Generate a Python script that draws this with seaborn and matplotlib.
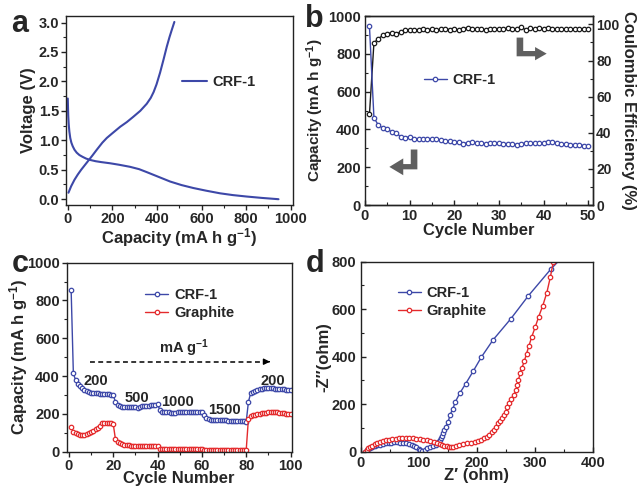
import numpy as np
import pandas as pd
import matplotlib
matplotlib.use("Agg")
import matplotlib.pyplot as plt
from matplotlib.ticker import MultipleLocator
from matplotlib.patches import Polygon
import seaborn as sns

# ---------------- data ----------------
# (a) charge / discharge profile
dis_cap = [0, 1, 2, 4, 7, 11, 16, 22, 30, 40, 52, 66, 82, 100, 125, 150, 190, 230,
           279, 320, 354, 400, 459, 510, 563, 620, 683, 740, 803, 870, 945]
dis_v = [1.71, 1.55, 1.42, 1.28, 1.15, 1.04, 0.96, 0.90, 0.84, 0.79, 0.75, 0.72, 0.69,
         0.667, 0.645, 0.63, 0.61, 0.585, 0.55, 0.51, 0.46, 0.39, 0.30, 0.24, 0.19,
         0.145, 0.10, 0.07, 0.045, 0.022, 0.0]
chg_cap = [3, 15, 30, 45, 60, 85, 110, 130, 155, 175, 200, 235, 265, 294, 325, 354,
           372, 385, 398, 414, 430, 444, 456, 466, 478]
chg_v = [0.11, 0.22, 0.33, 0.42, 0.50, 0.62, 0.74, 0.84, 0.96, 1.04, 1.12, 1.23, 1.31,
         1.40, 1.50, 1.62, 1.72, 1.82, 1.95, 2.15, 2.38, 2.59, 2.75, 2.87, 3.01]

# (b) cycling
cycles_b = list(range(1, 51))
cap_b = [945, 463, 422, 407, 400, 388, 382, 361, 357, 361,
         352, 350, 348, 348, 348, 347, 342, 340, 338, 335,
         332, 325, 330, 332, 330, 328, 325, 328, 328, 328,
         325, 325, 323, 320, 325, 328, 328, 328, 330, 330,
         336, 332, 330, 325, 322, 320, 320, 318, 315, 311]
ce_b = [50.3, 89.7, 92.1, 93.9, 94.8, 95.4, 94.8, 95.7, 96.6, 96.8,
        96.6, 97.0, 97.2, 97.0, 97.3, 96.8, 97.3, 97.5, 97.0, 97.2,
        96.8, 97.5, 98.2, 97.6, 97.5, 97.3, 97.0, 97.5, 97.5, 97.4,
        97.6, 97.8, 97.5, 97.6, 98.3, 97.0, 97.8, 97.5, 97.9, 97.4,
        97.9, 97.6, 97.3, 97.2, 97.4, 97.4, 97.5, 97.6, 97.6, 97.5]

# (c) rate performance
cycles_c = list(range(1, 101))
crf_c = [855, 414, 379, 360, 345, 335, 328, 322, 316, 312,
         310, 308, 308, 307, 306, 305, 305, 303, 302, 300,
         262, 247, 240, 238, 238, 238, 237, 238, 238, 238,
         230, 238, 240, 242, 243, 244, 245, 246, 248, 250,
         222, 212, 210, 208, 208, 203, 206, 207, 208, 208,
         209, 210, 210, 210, 209, 210, 209, 208, 210, 208,
         194, 180, 175, 170, 168, 168, 167, 166, 166, 165,
         165, 164, 164, 163, 163, 162, 162, 161, 160, 158,
         264, 309, 318, 322, 326, 330, 333, 335, 338, 338,
         337, 335, 334, 333, 332, 330, 330, 328, 327, 326]
gra_c = [132, 105, 97, 92, 88, 88, 90, 95, 100, 106,
         112, 118, 126, 138, 150, 152, 151, 151, 150, 146,
         65, 53, 45, 40, 36, 34, 33, 32, 31, 31,
         30, 30, 30, 30, 29, 29, 29, 29, 28, 28,
         13, 13, 13, 12, 12, 13, 13, 13, 12, 12,
         13, 13, 13, 13, 12, 13, 13, 13, 12, 12,
         9, 9, 9, 9, 9, 9, 9, 9, 9, 9,
         9, 9, 9, 9, 9, 9, 9, 9, 9, 9,
         175, 188, 192, 195, 198, 200, 202, 203, 205, 208,
         210, 210, 210, 208, 206, 205, 202, 200, 200, 200]
rate_labels = ["200", "500", "1000", "1500", "200"]
rate_label_x = [12, 30.5, 49, 70, 92]
rate_label_y = [374, 286, 264, 220, 374]

# (d) Nyquist plots
z_re_crf = [8, 10, 13, 16, 20, 24, 28, 33, 38, 43, 48, 53, 58, 63, 68, 73, 78, 83,
            88, 92, 96, 100, 103, 106, 110, 115, 120, 125, 129, 132, 134, 136, 138,
            140, 142, 144, 147, 151, 154, 159, 163, 171, 181, 194, 208, 228, 259,
            289, 328, 345]
z_im_crf = [0, 6, 11, 15, 20, 24, 27, 30, 33, 35, 37, 38, 39, 39, 38, 37, 35, 32,
            28, 23, 18, 12, 7, 5, 9, 14, 18, 22, 28, 35, 42, 50, 58,
            68, 80, 92, 106, 127, 155, 181, 209, 247, 286, 339, 398, 470, 560,
            656, 769, 812]
z_re_gra = [8, 10, 13, 16, 20, 24, 28, 33, 38, 43, 48, 54, 60, 66, 72, 78, 84, 90,
            96, 102, 108, 114, 120, 126, 131, 136, 140, 144, 148, 152, 156, 160,
            165, 170, 176, 183, 190, 197, 203, 208, 213, 218, 222, 226, 229, 233,
            237, 240, 243, 247, 250, 253, 256, 259, 264, 268, 270, 272, 275, 278,
            282, 286, 290, 295, 301, 307, 314, 321, 327, 332, 336]
z_im_gra = [0, 7, 14, 20, 26, 31, 36, 40, 44, 48, 51, 53, 55, 56, 57, 57, 57, 56,
            55, 53, 51, 48, 45, 41, 37, 33, 29, 25, 22, 19, 18, 20,
            24, 28, 31, 35, 37, 40, 44, 50, 56, 62, 72, 82, 92, 105,
            120, 130, 141, 155, 169, 190, 205, 221, 240, 258, 280, 303, 330, 353,
            380, 413, 445, 484, 525, 569, 615, 670, 735, 797, 830]

# ---------------- style ----------------
sns.set_theme(style="ticks")
plt.rcParams["font.family"] = ["Liberation Sans", "DejaVu Sans"]
plt.rcParams["font.weight"] = "bold"
plt.rcParams["axes.labelweight"] = "bold"
plt.rcParams["mathtext.fontset"] = "custom"
plt.rcParams["mathtext.bf"] = "Liberation Sans:bold"
plt.rcParams["mathtext.rm"] = "Liberation Sans:bold"
plt.rcParams["mathtext.default"] = "bf"

BLUE = "#3d48a8"
RED = "#e42a2c"
BLACK = "#1a1a1a"
TICK_FS = 10.5
LAB_FS = 12
LEG_FS = 10.5

fig = plt.figure(figsize=(6.39, 4.86), dpi=100)
ax_a = fig.add_axes([0.1033, 0.578, 0.3552, 0.389])
ax_b = fig.add_axes([0.5712, 0.578, 0.3563, 0.389])
ax_c = fig.add_axes([0.1044, 0.0706, 0.352, 0.389])
ax_d = fig.add_axes([0.5645, 0.0706, 0.363, 0.391])


def style_axis(ax, direction="out", size=TICK_FS, pad=1.5):
    for s in ax.spines.values():
        s.set_visible(True)
        s.set_linewidth(1.0)
        s.set_color("#222222")
    ax.tick_params(which="major", direction=direction, length=3.5, width=1.0,
                   labelsize=size, pad=pad, color="#222222")
    ax.tick_params(which="minor", direction=direction, length=2, width=0.8, color="#222222")
    for lab in ax.get_xticklabels() + ax.get_yticklabels():
        lab.set_fontweight("bold")


mk = dict(marker="o", markersize=3.2, markerfacecolor="white", markeredgewidth=0.9)

# ---------------- (a) ----------------
df_a1 = pd.DataFrame({"cap": dis_cap, "v": dis_v})
df_a2 = pd.DataFrame({"cap": chg_cap, "v": chg_v})
sns.lineplot(data=df_a1, x="cap", y="v", ax=ax_a, color=BLUE, lw=1.5, sort=False,
             estimator=None, label="CRF-1")
sns.lineplot(data=df_a2, x="cap", y="v", ax=ax_a, color=BLUE, lw=1.5, sort=False,
             estimator=None)
ax_a.set_xlim(-8, 1010)
ax_a.set_ylim(-0.1, 3.11)
ax_a.xaxis.set_major_locator(MultipleLocator(200))
ax_a.xaxis.set_minor_locator(MultipleLocator(100))
ax_a.yaxis.set_major_locator(MultipleLocator(0.5))
ax_a.yaxis.set_minor_locator(MultipleLocator(0.25))
ax_a.yaxis.set_major_formatter(matplotlib.ticker.FormatStrFormatter("%.1f"))
ax_a.set_xlabel(r"Capacity (mA h g$^{-1}$)", fontsize=LAB_FS, labelpad=0)
ax_a.set_ylabel("Voltage (V)", fontsize=LAB_FS, labelpad=2)
ax_a.legend(loc="center left", bbox_to_anchor=(0.48, 0.652), frameon=False,
            handlelength=1.7, handletextpad=0.4, borderpad=0,
            prop={"weight": "bold", "size": LEG_FS})
style_axis(ax_a)

# ---------------- (b) ----------------
df_b = pd.DataFrame({"cycle": cycles_b, "cap": cap_b, "ce": ce_b})
sns.lineplot(data=df_b, x="cycle", y="cap", ax=ax_b, color=BLUE, lw=1.0,
             markeredgecolor=BLUE, label="CRF-1", **mk)
ax_b2 = ax_b.twinx()
sns.lineplot(data=df_b, x="cycle", y="ce", ax=ax_b2, color=BLACK, lw=1.0,
             markeredgecolor=BLACK, **mk)
ax_b.set_xlim(0, 51)
ax_b.set_ylim(0, 1000)
ax_b2.set_ylim(0, 104.6)
ax_b.xaxis.set_major_locator(MultipleLocator(10))
ax_b.xaxis.set_minor_locator(MultipleLocator(5))
ax_b.yaxis.set_major_locator(MultipleLocator(200))
ax_b.yaxis.set_minor_locator(MultipleLocator(100))
ax_b2.yaxis.set_major_locator(MultipleLocator(20))
ax_b2.yaxis.set_minor_locator(MultipleLocator(10))
ax_b.set_xlabel("Cycle Number", fontsize=LAB_FS, labelpad=0)
ax_b.set_ylabel(r"Capacity (mA h g$^{-1}$)", fontsize=11, labelpad=1.5)
ax_b2.set_ylabel("Coulombic Efficiency (%)", fontsize=LAB_FS, rotation=270, labelpad=12)
ax_b.legend(loc="center left", bbox_to_anchor=(0.225, 0.66), frameon=False,
            handlelength=1.6, handletextpad=0.4, borderpad=0,
            prop={"weight": "bold", "size": LEG_FS})
style_axis(ax_b, direction="in", pad=3)
style_axis(ax_b2, direction="in", size=10, pad=2.5)
ax_b2.spines["left"].set_visible(False)
ax_b2.set_zorder(ax_b.get_zorder() - 1)
ax_b.patch.set_visible(False)

arrow_gray = "#5f5f5f"
arr_tr = [(0.666, 0.886), (0.695, 0.886), (0.695, 0.815), (0.747, 0.815), (0.747, 0.836),
          (0.798, 0.801), (0.747, 0.766), (0.747, 0.787), (0.666, 0.787)]
arr_bl = [(0.201, 0.294), (0.230, 0.294), (0.230, 0.189), (0.168, 0.189), (0.168, 0.158),
          (0.107, 0.202), (0.168, 0.247), (0.168, 0.217), (0.201, 0.217)]
for pts in (arr_tr, arr_bl):
    ax_b.add_patch(Polygon(pts, closed=True, transform=ax_b.transAxes,
                           facecolor=arrow_gray, edgecolor="none"))

# ---------------- (c) ----------------
df_c = pd.DataFrame({"cycle": cycles_c, "crf": crf_c, "gra": gra_c})
sns.lineplot(data=df_c, x="cycle", y="crf", ax=ax_c, color=BLUE, lw=1.0,
             markeredgecolor=BLUE, label="CRF-1", **mk)
sns.lineplot(data=df_c, x="cycle", y="gra", ax=ax_c, color=RED, lw=1.0,
             markeredgecolor=RED, label="Graphite", **mk)
ax_c.set_xlim(-1, 100.5)
ax_c.set_ylim(0, 1000)
ax_c.xaxis.set_major_locator(MultipleLocator(20))
ax_c.xaxis.set_minor_locator(MultipleLocator(10))
ax_c.yaxis.set_major_locator(MultipleLocator(200))
ax_c.yaxis.set_minor_locator(MultipleLocator(100))
ax_c.set_xlabel("Cycle Number", fontsize=LAB_FS, labelpad=-1)
ax_c.set_ylabel(r"Capacity (mA h g$^{-1}$)", fontsize=LAB_FS, labelpad=-2)
ax_c.legend(loc="center left", bbox_to_anchor=(0.315, 0.782), frameon=False,
            handlelength=1.6, handletextpad=0.4, borderpad=0, labelspacing=0.25,
            prop={"weight": "bold", "size": LEG_FS})
for t, x, y in zip(rate_labels, rate_label_x, rate_label_y):
    ax_c.text(x, y, t, ha="center", va="center", fontsize=TICK_FS, fontweight="bold")
ax_c.plot([9.5, 90.5], [476, 476], ls=(0, (3.2, 2.2)), color="black", lw=1.1)
ax_c.annotate("", xy=(92, 476), xytext=(89, 476),
              arrowprops=dict(arrowstyle="-|>", color="black", lw=1.0, mutation_scale=9))
ax_c.text(52, 545, r"mA g$^{-1}$", ha="center", va="center", fontsize=TICK_FS,
          fontweight="bold")
style_axis(ax_c)

# ---------------- (d) ----------------
df_d1 = pd.DataFrame({"re": z_re_crf, "im": z_im_crf})
df_d2 = pd.DataFrame({"re": z_re_gra, "im": z_im_gra})
sns.lineplot(data=df_d1, x="re", y="im", ax=ax_d, color=BLUE, lw=1.0, sort=False,
             estimator=None, markeredgecolor=BLUE, label="CRF-1", **mk)
sns.lineplot(data=df_d2, x="re", y="im", ax=ax_d, color=RED, lw=1.0, sort=False,
             estimator=None, markeredgecolor=RED, label="Graphite", **mk)
ax_d.set_xlim(0, 400)
ax_d.set_ylim(0, 800)
ax_d.xaxis.set_major_locator(MultipleLocator(100))
ax_d.xaxis.set_minor_locator(MultipleLocator(50))
ax_d.yaxis.set_major_locator(MultipleLocator(200))
ax_d.yaxis.set_minor_locator(MultipleLocator(100))
ax_d.set_xlabel("Z\u2032 (ohm)", fontsize=LAB_FS, labelpad=-1)
ax_d.set_ylabel("-Z\u2033(ohm)", fontsize=LAB_FS, labelpad=0)
ax_d.legend(loc="center left", bbox_to_anchor=(0.128, 0.787), frameon=False,
            handlelength=1.6, handletextpad=0.4, borderpad=0, labelspacing=0.25,
            prop={"weight": "bold", "size": LEG_FS})
style_axis(ax_d, direction="in", pad=3)

# panel letters
for letter, x, y in [("a", 0.018, 0.935), ("b", 0.478, 0.945), ("c", 0.018, 0.440),
                     ("d", 0.478, 0.440)]:
    fig.text(x, y, letter, fontsize=22, fontweight="bold", ha="left", va="baseline")

fig.savefig("out.png", dpi=100)
